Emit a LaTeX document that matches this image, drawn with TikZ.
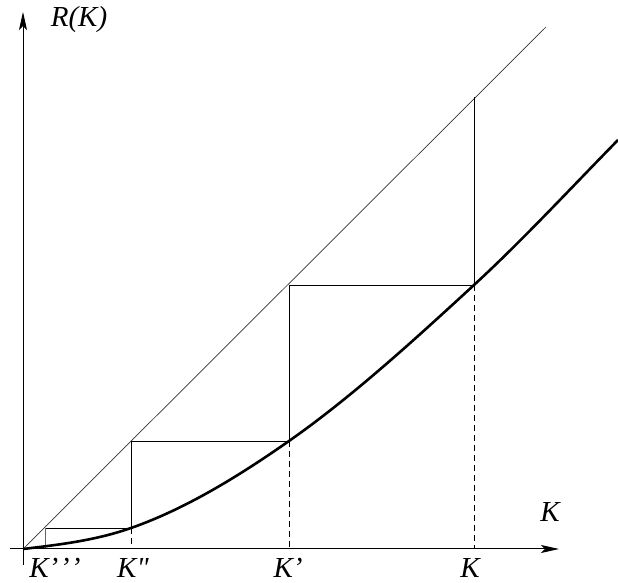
\documentclass[tikz,border=0pt]{standalone}
\usepackage{fontspec}
\setmainfont{Liberation Serif}[Ligatures=TeXOff]
\usetikzlibrary{arrows.meta}
\begin{document}
\begin{tikzpicture}[x=1pt,y=1pt,
  axis/.style={line width=1pt,-{Stealth[length=18pt,width=8pt,inset=4pt]}},
  thin/.style={line width=0.8pt},
  diag/.style={line width=0.7pt,black!80},
  dashline/.style={line width=0.8pt,dash pattern=on 6pt off 4pt},
  curve/.style={line width=2.6pt},
  lbl/.style={font=\fontsize{29}{34}\selectfont\itshape,inner sep=0pt}]
\useasboundingbox (0,0) rectangle (618,583);
% key points
\coordinate (O) at (23,34);
\coordinate (xs) at (10,34);
\coordinate (xe) at (559,34);
\coordinate (ys) at (23,18);
\coordinate (ye) at (23,571);
\coordinate (de) at (546,556);
\coordinate (c3) at (45,55);
\coordinate (b3) at (45,34);
\coordinate (c2) at (131,55);
\coordinate (d2) at (131,142);
\coordinate (b2) at (131,34);
\coordinate (c1) at (289,142);
\coordinate (d1) at (289,298);
\coordinate (b1) at (289,34);
\coordinate (c0) at (474,298);
\coordinate (d0) at (474,486);
\coordinate (b0) at (474,34);
\coordinate (ce) at (618,443);
% diagonal
\draw[diag] (O) -- (de);
% staircase
\draw[thin] (c0) -- (d0);
\draw[thin] (d1) -- (c0);
\draw[thin] (c1) -- (d1);
\draw[thin] (d2) -- (c1);
\draw[thin] (c2) -- (d2);
\draw[thin] (c3) -- (c2);
\draw[thin,black!60] (b3) -- (c3);
% dashed drops
\draw[dashline] (c2) -- (b2);
\draw[dashline] (c1) -- (b1);
\draw[dashline] (c0) -- (b0);
% curve
\draw[curve] (O) .. controls (59,38.3) and (95,42.4) .. (c2)
  .. controls (183.7,73.4) and (236.3,105.1) .. (c1)
  .. controls (350.7,185.2) and (412.3,241.2) .. (c0)
  .. controls (522,342.2) and (570,394) .. (ce);
% axes
\draw[axis] (xs) -- (xe);
\draw[axis] (ys) -- (ye);
% labels
\node[lbl] (lR) at (79,563) {R(K)};
\node[lbl] (lK) at (550,71) {K};
\node[lbl,anchor=base] (l3) at (55,5) {K’\hspace{1.5pt}’\hspace{1.5pt}’};
\node[lbl,anchor=base] (l2) at (133,5) {K"};
\node[lbl,anchor=base] (l1) at (288,5) {K’};
\node[lbl,anchor=base] (l0) at (470,5) {K};
\end{tikzpicture}
\end{document}
